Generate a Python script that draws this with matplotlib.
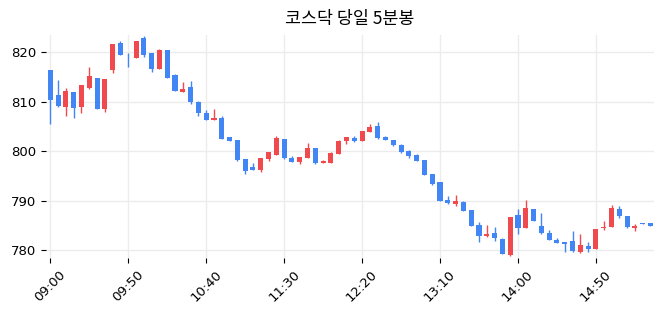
import numpy as np
import pandas as pd
from matplotlib import pyplot as plt

# 5-minute bars, 09:00 .. 15:25
times = pd.date_range('09:00', periods=78, freq='5min').strftime('%H:%M').tolist()

opens = [816.4, 811.4, 809.0, 812.0, 809.0, 812.9, 814.9, 808.6, 816.4, 821.8,
         819.3, 818.9, 822.9, 819.8, 816.7, 820.5, 815.4, 811.9, 813.0, 810.0,
         807.7, 806.4, 806.7, 802.9, 802.3, 798.5, 796.8, 796.3, 798.5, 799.3,
         802.5, 798.7, 797.9, 798.7, 800.7, 797.7, 797.7, 799.5, 802.0, 802.7,
         802.1, 804.0, 805.1, 803.0, 802.4, 801.2, 800.0, 799.2, 798.2, 795.4,
         793.9, 790.1, 789.4, 789.7, 788.1, 785.1, 783.0, 783.5, 782.3, 779.1,
         787.1, 784.6, 788.4, 784.9, 783.6, 782.1, 781.7, 781.9, 779.7, 780.9,
         780.3, 784.6, 784.7, 788.4, 786.9, 784.5, 785.5, 785.5]
highs = [816.5, 814.5, 812.9, 812.0, 813.4, 817.0, 814.9, 814.6, 821.7, 822.4,
         819.8, 822.4, 823.3, 819.8, 820.7, 820.5, 815.6, 814.0, 814.2, 810.2,
         808.4, 808.6, 807.1, 803.0, 802.3, 798.5, 797.6, 798.7, 799.9, 803.2,
         802.5, 799.1, 798.9, 801.7, 800.7, 798.2, 799.9, 802.3, 802.9, 803.2,
         804.1, 805.5, 805.9, 803.2, 802.4, 801.5, 800.2, 799.4, 798.2, 795.4,
         793.9, 791.0, 791.2, 789.9, 788.1, 785.7, 785.1, 784.8, 782.6, 786.8,
         788.3, 790.1, 788.4, 787.5, 784.1, 782.6, 781.7, 784.0, 783.3, 781.7,
         784.3, 785.9, 789.2, 789.0, 786.9, 785.3, 785.5, 785.5]
lows = [805.5, 809.0, 807.1, 806.7, 807.7, 812.7, 808.6, 808.0, 815.8, 819.4,
        817.0, 818.9, 819.1, 816.0, 816.7, 814.9, 812.2, 811.9, 809.5, 807.2,
        806.4, 806.4, 802.5, 802.2, 798.1, 795.4, 796.3, 795.8, 798.0, 799.3,
        798.4, 797.9, 797.5, 798.7, 797.5, 797.7, 797.7, 799.5, 801.4, 801.8,
        802.1, 804.0, 802.6, 802.4, 801.1, 799.7, 798.7, 798.1, 795.3, 793.2,
        790.0, 789.4, 789.0, 788.0, 785.0, 781.6, 782.8, 781.8, 779.2, 778.8,
        783.4, 784.6, 786.0, 783.4, 782.0, 781.4, 779.7, 779.7, 779.5, 779.7,
        780.3, 784.1, 784.7, 786.6, 784.6, 784.0, 785.4, 785.0]
closes = [810.4, 809.2, 812.3, 808.8, 813.4, 815.2, 808.6, 814.6, 821.7, 819.5,
          819.2, 822.4, 819.5, 816.7, 820.5, 814.9, 812.3, 812.7, 810.0, 807.8,
          806.4, 806.8, 802.6, 802.2, 798.3, 796.1, 796.3, 798.7, 799.9, 802.7,
          798.7, 797.9, 798.9, 800.7, 797.7, 798.0, 799.7, 802.1, 802.9, 802.2,
          804.1, 805.0, 802.8, 802.4, 801.3, 799.9, 799.1, 798.1, 795.3, 793.5,
          790.0, 789.6, 789.9, 788.0, 785.0, 783.0, 783.3, 782.6, 779.2, 786.8,
          784.6, 788.5, 786.0, 783.6, 782.1, 781.5, 781.3, 779.9, 781.1, 780.3,
          784.3, 784.8, 788.6, 787.0, 784.8, 785.0, 785.4, 785.0]

tick_every = 10
y_ticks = [780, 790, 800, 810, 820]

UP = '#F04A4F'
DOWN = '#4285F4'

o = np.array(opens)
c = np.array(closes)
x = np.arange(len(times))
colors = [UP if cc > oo else DOWN for oo, cc in zip(o, c)]

fig = plt.figure(figsize=(6.63, 3.16), dpi=100)
ax = fig.add_axes([0.0694, 0.1826, 0.917, 0.7064])

ax.vlines(x, lows, highs, colors=colors, linewidth=1, zorder=2)
bottoms = np.minimum(o, c)
heights = np.maximum(np.abs(c - o), 0.15)
ax.bar(x, heights, bottom=bottoms, width=0.65, color=colors, zorder=3)

ax.set_xlim(-0.55, 77.45)
ax.set_ylim(778.4, 823.5)
ax.set_xticks(x[::tick_every])
ax.set_xticklabels(times[::tick_every], rotation=45, fontsize=9.5)
ax.set_yticks(y_ticks)
ax.tick_params(axis='y', labelsize=9.5)
ax.grid(True, color='#ececec', linewidth=1, zorder=0)
ax.set_axisbelow(True)
for s in ax.spines.values():
    s.set_visible(False)

ax.set_title('코스닥 당일 5분봉', fontsize=12.5, family=['Noto Sans CJK KR', 'DejaVu Sans'], pad=8)

fig.savefig('out.png', dpi=100)
